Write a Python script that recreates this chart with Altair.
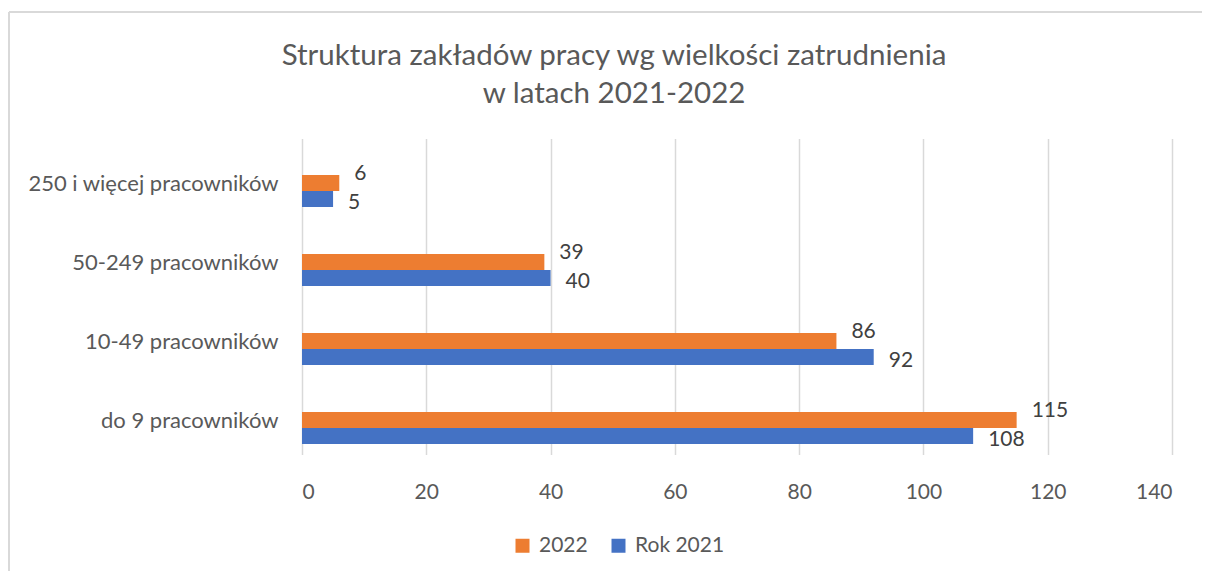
import altair as alt
import pandas as pd

categories = ["250 i więcej pracowników", "50-249 pracowników", "10-49 pracowników", "do 9 pracowników"]
series = ["2022", "Rok 2021"]
values_2022 = [6, 39, 86, 115]
values_2021 = [5, 40, 92, 108]
colors = ["#ED7D31", "#4472C4"]
title_lines = ["Struktura zakładów pracy wg wielkości zatrudnienia", "w latach 2021-2022"]
x_ticks = [0, 20, 40, 60, 80, 100, 120, 140]

rows = []
for c, v in zip(categories, values_2022):
    rows.append({"kategoria": c, "seria": "2022", "wartosc": v})
for c, v in zip(categories, values_2021):
    rows.append({"kategoria": c, "seria": "Rok 2021", "wartosc": v})
df = pd.DataFrame(rows)

FONT = "Lato"
GRAY = "#595959"

y_scale = alt.Scale(paddingInner=0.595, paddingOuter=0.2975, range=[6.5, 322.5])
y_enc = alt.Y("kategoria:N", sort=categories, title=None, scale=y_scale,
              axis=alt.Axis(labelFontSize=22, labelColor=GRAY, labelFont=FONT,
                            domain=False, ticks=False, labelPadding=24, labelLimit=400,
                            labelOffset=-7, grid=False))
x_enc = alt.X("wartosc:Q", title=None,
              scale=alt.Scale(domain=[0, 140], nice=False),
              axis=alt.Axis(values=x_ticks, labelFontSize=21, labelColor=GRAY, labelFont=FONT,
                            domain=False, ticks=False, labelPadding=20,
                            grid=True, gridColor="#D9D9D9", gridWidth=1.5))
color_enc = alt.Color("seria:N", scale=alt.Scale(domain=series, range=colors),
                      legend=alt.Legend(title=None, orient="none", direction="horizontal",
                                        legendX=210, legendY=390, symbolType="square",
                                        symbolSize=196, symbolStrokeWidth=0,
                                        labelFontSize=21, labelColor=GRAY, labelFont=FONT,
                                        labelOffset=6, columnPadding=20, padding=0))
yoff = alt.YOffset("seria:N", sort=series, scale=alt.Scale(paddingInner=0, paddingOuter=0))

base = alt.Chart(df)

bars = base.mark_bar().encode(y=y_enc, x=x_enc, color=color_enc, yOffset=yoff)

y_plain = alt.Y("kategoria:N", sort=categories)

labels_2022 = base.transform_filter(alt.datum.seria == "2022").mark_text(
    align="left", baseline="middle", dx=15, dy=-9, fontSize=21, font=FONT, color="#404040"
).encode(y=y_plain, x="wartosc:Q", yOffset=yoff, text="wartosc:Q")

labels_2021 = base.transform_filter(alt.datum.seria == "Rok 2021").mark_text(
    align="left", baseline="middle", dx=15, dy=4, fontSize=21, font=FONT, color="#404040"
).encode(y=y_plain, x="wartosc:Q", yOffset=yoff, text="wartosc:Q")

frame_df = pd.DataFrame({"k": [0]})
left_border = alt.Chart(frame_df).mark_rule(color="#D9D9D9", strokeWidth=2).encode(
    x=alt.value(-293), y=alt.value(-133), y2=alt.value(426))
top_border = alt.Chart(frame_df).mark_rule(color="#D9D9D9", strokeWidth=2).encode(
    x=alt.value(-293), x2=alt.value(900), y=alt.value(-133))

title_df = pd.DataFrame({"linia": title_lines, "nr": [0, 1]})
title1 = alt.Chart(title_df).transform_filter(alt.datum.nr == 0).mark_text(
    font=FONT, fontSize=29.5, color=GRAY, align="center", baseline="middle"
).encode(text="linia:N", x=alt.value(312), y=alt.value(-89))
title2 = alt.Chart(title_df).transform_filter(alt.datum.nr == 1).mark_text(
    font=FONT, fontSize=29.5, color=GRAY, align="center", baseline="middle"
).encode(text="linia:N", x=alt.value(312), y=alt.value(-51))

chart = alt.layer(left_border, top_border, title1, title2, bars, labels_2022, labels_2021).properties(
    width=870, height=316,
    background="white",
    autosize=alt.AutoSizeParams(type="none"),
    padding={"left": 294, "top": 137, "right": 30, "bottom": 110},
).resolve_scale(y="shared").configure_view(stroke="transparent", strokeWidth=0)

chart.save("out.html", embed_options={"renderer": "svg", "actions": False})
